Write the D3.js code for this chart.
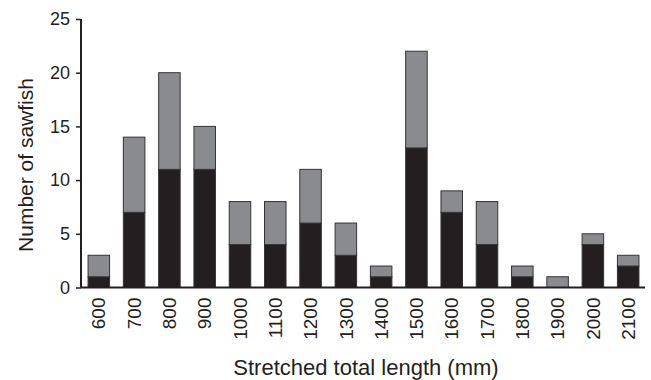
<!DOCTYPE html>
<html>
<head>
    <script src="https://d3js.org/d3.v7.min.js"></script>
    <style>
        body { margin: 0; background: #fff; }
        svg text { font-family: "Liberation Sans", Arial, sans-serif; fill: #231f20; }
    </style>
</head>
<body>
    <div id="chart"></div>
    <script>
        // stretched total length classes (mm)
        const lengths = ['600', '700', '800', '900', '1000', '1100', '1200', '1300',
                         '1400', '1500', '1600', '1700', '1800', '1900', '2000', '2100'];
        // lower (black) part of each bar
        const blackCounts = [1, 7, 11, 11, 4, 4, 6, 3, 1, 13, 7, 4, 1, 0, 4, 2];
        // upper (grey) part of each bar
        const greyCounts = [2, 7, 9, 4, 4, 4, 5, 3, 1, 9, 2, 4, 1, 1, 1, 1];
        const yTicks = [0, 5, 10, 15, 20, 25];

        const width = 651, height = 380;
        const margin = { top: 19, right: 5, bottom: 93, left: 81 };

        const svg = d3.select('#chart').append('svg')
            .attr('width', width)
            .attr('height', height);

        const x = d3.scaleBand()
            .domain(lengths)
            .range([margin.left, width - margin.right])
            .paddingInner(0.39)
            .paddingOuter(0.2);

        const y = d3.scaleLinear()
            .domain([0, 25])
            .range([height - margin.bottom + 0.5, margin.top]);

        const table = lengths.map((l, i) => ({ length: l, black: blackCounts[i], grey: greyCounts[i] }));
        const stacked = d3.stack().keys(['black', 'grey'])(table);
        const colors = { black: '#231f20', grey: '#8a8b8e' };

        svg.append('g').selectAll('g')
            .data(stacked)
            .join('g')
            .attr('fill', d => colors[d.key])
            .selectAll('rect')
            .data(d => d.filter(s => s[1] > s[0]))
            .join('rect')
            .attr('x', d => x(d.data.length))
            .attr('width', x.bandwidth())
            .attr('y', d => y(d[1]))
            .attr('height', d => y(d[0]) - y(d[1]))
            .attr('stroke', '#333')
            .attr('stroke-width', 1);

        // y axis
        const yAxis = svg.append('g')
            .attr('transform', `translate(${margin.left},0)`)
            .call(d3.axisLeft(y).tickValues(yTicks).tickSize(5).tickPadding(6));
        yAxis.select('.domain').attr('stroke', '#231f20').attr('stroke-width', 2)
            .attr('d', `M0,${margin.top}V${y(0)}`);
        yAxis.selectAll('.tick line').attr('stroke', '#231f20').attr('stroke-width', 1.5);
        yAxis.selectAll('text').style('font-size', '18px');

        // x axis
        const xAxis = svg.append('g')
            .attr('transform', `translate(0,${y(0)})`)
            .call(d3.axisBottom(x).tickSize(0));
        xAxis.select('.domain').attr('stroke', '#231f20').attr('stroke-width', 2)
            .attr('d', `M${margin.left},0H${width - 6}`);
        xAxis.selectAll('text')
            .style('font-size', '19px')
            .style('text-anchor', 'end')
            .attr('transform', 'rotate(-90)')
            .attr('x', -10)
            .attr('y', 0)
            .attr('dy', '0.35em');

        svg.append('text')
            .attr('x', 366)
            .attr('y', 375)
            .attr('text-anchor', 'middle')
            .style('font-size', '22px')
            .text('Stretched total length (mm)');

        svg.append('text')
            .attr('transform', 'translate(33,165) rotate(-90)')
            .attr('text-anchor', 'middle')
            .style('font-size', '21px')
            .text('Number of sawfish');
    </script>
</body>
</html>
